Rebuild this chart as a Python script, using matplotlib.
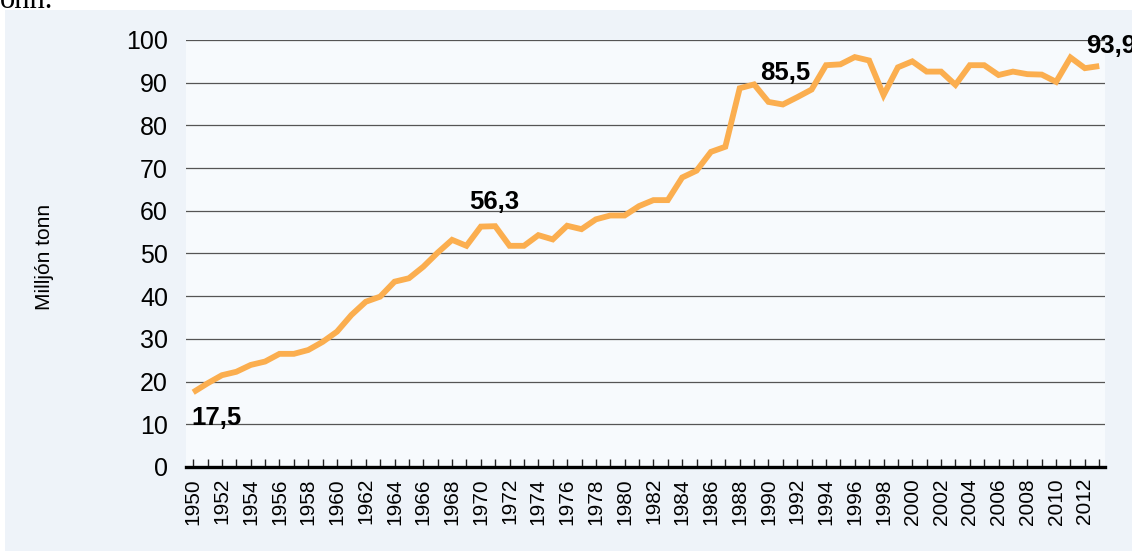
import matplotlib.pyplot as plt
from matplotlib.patches import Rectangle
import numpy as np

years = list(range(1950, 2014))
tonnes = [17.5, 19.6, 21.5, 22.3, 23.9, 24.7, 26.5, 26.5, 27.4, 29.3,
          31.7, 35.6, 38.7, 39.9, 43.4, 44.2, 46.9, 50.2, 53.2, 51.8,
          56.3, 56.4, 51.8, 51.8, 54.3, 53.3, 56.5, 55.7, 58.0, 58.9,
          58.9, 61.1, 62.5, 62.5, 67.8, 69.4, 73.8, 75.0, 88.7, 89.6,
          85.5, 84.9, 86.6, 88.4, 94.1, 94.3, 96.0, 95.2, 87.1, 93.6,
          95.0, 92.6, 92.6, 89.5, 94.1, 94.1, 91.8, 92.6, 92.0, 91.9,
          90.2, 95.9, 93.4, 93.9]

labelled_years = [1950, 1970, 1990, 2013]
label_texts = ["17,5", "56,3", "85,5", "93,9"]
label_offsets = [(-0.1, -7.6), (-0.8, 4.2), (-0.6, 5.1), (-0.9, 3.1)]

line_color = '#fbae4f'
panel_color = '#eef3f9'
plot_color = '#f7fafd'

plt.rcParams['font.family'] = ['Liberation Sans', 'DejaVu Sans']

fig = plt.figure(figsize=(11.32, 5.51), dpi=100)
fig.patches.append(Rectangle((5 / 1132, 0), 1, 1 - 10 / 551, transform=fig.transFigure,
                             facecolor=panel_color, edgecolor='none', zorder=-5))
fig.text(0.0, 1 - 8 / 551, "onn.", family='Liberation Serif', fontsize=22,
         va='baseline', ha='left', color='black')

ax = fig.add_axes([186 / 1132, 1 - 467 / 551, (1105 - 186) / 1132, (467 - 40) / 551])
ax.set_zorder(2)
ax.set_facecolor(plot_color)

ax.plot(years, tonnes, color=line_color, linewidth=4.2, solid_joinstyle='miter',
        solid_capstyle='butt', zorder=3)

for yr, txt, (dx, dy) in zip(labelled_years, label_texts, label_offsets):
    v = tonnes[years.index(yr)]
    ax.text(yr + dx, v + dy, txt, fontsize=18.5, fontweight='bold', ha='left',
            va='baseline', color='black', clip_on=False, zorder=4)

ax.set_xlim(1949.5, 2013.4)
ax.set_ylim(0, 100)
ax.set_yticks(np.arange(0, 101, 10))
ax.set_xticks(years, minor=True)
ax.set_xticks(years[::2])
ax.set_xticklabels([str(y) for y in years[::2]], rotation=90, fontsize=15)
ax.tick_params(axis='y', length=0, pad=13, labelsize=18)
ax.tick_params(axis='x', which='both', direction='in', length=6, width=1, pad=8, color='#222222')

ax.grid(axis='y', color='#555555', linewidth=0.9, zorder=1)
for side in ['top', 'right', 'left']:
    ax.spines[side].set_visible(False)
ax.spines['bottom'].set_linewidth(2.4)
ax.spines['bottom'].set_zorder(5)
ax.set_axisbelow(True)

fig.text(45 / 1132, 1 - 257 / 551, "Milljón tonn", rotation=90, fontsize=15,
         ha='center', va='center')

fig.savefig('out.png', dpi=100)
